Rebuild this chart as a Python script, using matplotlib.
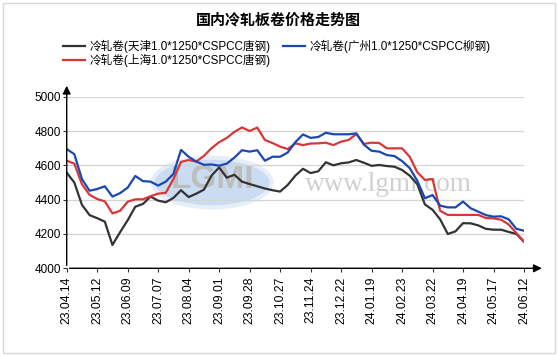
import matplotlib
matplotlib.use("Agg")
import matplotlib.pyplot as plt
from matplotlib.patches import Ellipse, Rectangle

plt.rcParams["font.family"] = ["Liberation Sans", "Noto Sans CJK SC", "DejaVu Sans"]

# dates shown on the x axis (one every 20 trading days)
tick_labels = ["23.04.14", "23.05.12", "23.06.09", "23.07.07", "23.08.04", "23.09.01",
               "23.09.28", "23.10.27", "23.11.24", "23.12.22", "24.01.19", "24.02.23",
               "24.03.22", "24.04.19", "24.05.17", "24.06.12"]

# trading-day index, sampled every 5 days
days = list(range(0, 301, 5))

tianjin = [4557, 4500, 4370, 4310, 4292, 4272, 4136, 4210, 4280, 4359,
           4375, 4418, 4394, 4385, 4410, 4455, 4415, 4435, 4458, 4540,
           4588, 4528, 4545, 4505, 4491, 4478, 4465, 4455, 4447, 4486,
           4540, 4580, 4555, 4565, 4618, 4600, 4612, 4617, 4631, 4615,
           4597, 4602, 4596, 4592, 4573, 4540, 4490, 4372, 4341, 4285,
           4200, 4215, 4263, 4262, 4250, 4230, 4225, 4225, 4212, 4200,
           4155]

shanghai = [4627, 4610, 4490, 4428, 4404, 4390, 4320, 4335, 4388, 4402,
            4402, 4420, 4435, 4440, 4520, 4620, 4631, 4622, 4655, 4700,
            4735, 4760, 4795, 4821, 4800, 4820, 4748, 4730, 4709, 4695,
            4728, 4718, 4727, 4728, 4732, 4718, 4738, 4748, 4783, 4725,
            4732, 4730, 4699, 4699, 4699, 4650, 4560, 4515, 4520, 4335,
            4311, 4311, 4311, 4311, 4311, 4293, 4291, 4283, 4255, 4205,
            4155]

guangzhou = [4695, 4665, 4520, 4452, 4462, 4478, 4418, 4438, 4470, 4538,
             4508, 4505, 4482, 4505, 4550, 4690, 4650, 4622, 4603, 4605,
             4598, 4610, 4645, 4688, 4680, 4688, 4627, 4650, 4650, 4675,
             4735, 4780, 4760, 4765, 4790, 4781, 4781, 4781, 4786, 4720,
             4685, 4680, 4660, 4654, 4625, 4584, 4510, 4408, 4427, 4365,
             4355, 4355, 4389, 4350, 4330, 4310, 4301, 4303, 4285, 4230,
             4219]

y_ticks = [4000, 4200, 4400, 4600, 4800, 5000]

names = ["冷轧卷(天津1.0*1250*CSPCC唐钢)",
         "冷轧卷(上海1.0*1250*CSPCC唐钢)",
         "冷轧卷(广州1.0*1250*CSPCC柳钢)"]
colors = ["#333333", "#d93636", "#1a48b0"]


def main():
    fig = plt.figure(figsize=(5.58, 3.56), dpi=100)
    W, H = 558, 356

    # light frame around the picture
    fig.patches.append(Rectangle((3 / W, 3 / H), 552 / W, 350 / H, transform=fig.transFigure,
                                 fill=False, edgecolor="#d8d8d8", linewidth=1))

    ax = fig.add_axes([66.7 / W, (H - 268.3) / H, (524 - 66.7) / W, 171.6 / H])

    # watermark
    ax.add_patch(Ellipse((0.318, 0.50), 0.26, 0.29, transform=ax.transAxes,
                         facecolor="#c9dcf2", edgecolor="#e6eff9", linewidth=3, zorder=0))
    ax.text(0.318, 0.52, "LGMI", transform=ax.transAxes, ha="center", va="center",
            fontsize=24, fontweight="bold", color="#bdbdbd", zorder=0)
    ax.text(0.703, 0.49, "www.lgmi.com", transform=ax.transAxes, ha="center", va="center",
            fontsize=19.5, family="Liberation Serif", color="#d0d0d0", zorder=0)

    series = [tianjin, shanghai, guangzhou]
    handles = []
    for vals, name, c in zip(series, names, colors):
        (ln,) = ax.plot(days, vals, color=c, linewidth=1.6, label=name, zorder=3)
        handles.append(ln)

    ax.set_xlim(0, 300)
    ax.set_ylim(4000, 5000)
    ax.set_xticks(range(0, 301, 20))
    ax.set_xticklabels(tick_labels, rotation=90, fontsize=8.8)
    ax.set_yticks(y_ticks)
    ax.set_yticklabels([str(v) for v in y_ticks], fontsize=8.5)
    ax.tick_params(axis="both", length=3, width=0.8, pad=1, color="#333333")
    ax.tick_params(axis="x", pad=3)
    ax.yaxis.grid(True, color="#d4d4d4", linewidth=0.9)
    ax.set_axisbelow(True)
    for s in ax.spines.values():
        s.set_visible(False)

    # axis lines with arrow heads
    ax.annotate("", xy=(0, 1.08), xytext=(0, 0), xycoords="axes fraction",
                arrowprops=dict(arrowstyle="-|>", color="black", lw=1, mutation_scale=12),
                annotation_clip=False)
    ax.annotate("", xy=(1.045, 0), xytext=(0, 0), xycoords="axes fraction",
                arrowprops=dict(arrowstyle="-|>", color="black", lw=1, mutation_scale=12),
                annotation_clip=False)

    fig.text(278 / W, 1 - 20 / H, "国内冷轧板卷价格走势图", ha="center", va="center",
             fontsize=10.8, fontweight="bold", family=["Noto Sans CJK SC", "DejaVu Sans"])

    fig.legend(handles=handles, ncol=2, frameon=False, fontsize=8.4,
               loc="upper left", bbox_to_anchor=(63 / W, 1 - 40 / H),
               handlelength=1.9, handletextpad=0.4, columnspacing=1.0,
               labelspacing=0.05, borderpad=0, borderaxespad=0)

    fig.savefig("out.png", dpi=100)
    plt.close(fig)


if __name__ == "__main__":
    main()
